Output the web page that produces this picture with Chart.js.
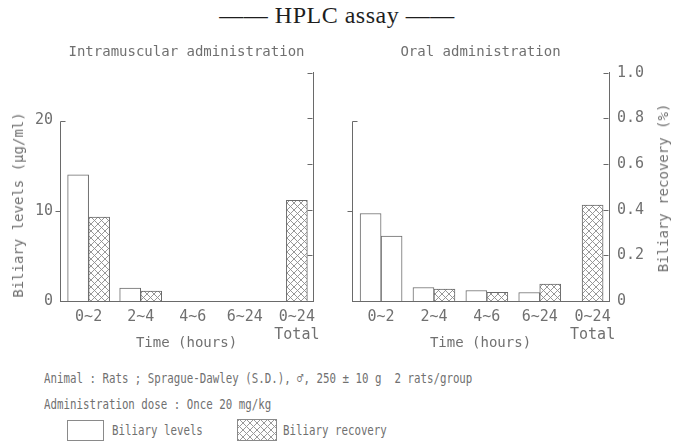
<!DOCTYPE html>
<html lang="en">
<head>
<meta charset="UTF-8">
<title>HPLC assay</title>
<script src="https://cdn.jsdelivr.net/npm/chart.js"></script>
<style>
  body { margin: 0; background: #fff; }
  #page { position: relative; width: 674px; height: 442px; overflow: hidden; font-family: "DejaVu Sans Mono", monospace; color: #707070; }
  h1 { position: absolute; left: 0; top: 0; width: 674px; margin: 0; text-align: center; font: normal 24px "Liberation Serif", serif; line-height: 30px; letter-spacing: 0.5px; color: #1e1e1e; }
  canvas { position: absolute; top: 0; }
  .note { position: absolute; left: 44px; font-size: 14px; line-height: 20px; white-space: pre; transform: scaleX(0.77); transform-origin: left center; }
  .axis-title { position: absolute; font-size: 14px; line-height: 16px; white-space: pre; transform: translate(-50%, -50%) rotate(-90deg); }
  .swatch { position: absolute; border: 1px solid #8a8a8a; background: #fff; }
  .hatched { background-image: repeating-linear-gradient(45deg, #9a9a9a 0 1px, transparent 1px 5px), repeating-linear-gradient(-45deg, #9a9a9a 0 1px, transparent 1px 5px); }
</style>
</head>
<body>
<div id="page">
  <h1>—— HPLC assay ——</h1>
  <canvas id="imChart" width="337" height="358" style="left:0"></canvas>
  <canvas id="oralChart" width="337" height="358" style="left:337px"></canvas>
  <div class="axis-title" style="left:18px; top:205px">Biliary levels (μg/ml)</div>
  <div class="axis-title" style="left:663px; top:188px">Biliary recovery (%)</div>

  <div class="note" style="top:368px">Animal : Rats ; Sprague-Dawley (S.D.), ♂, 250 ± 10 g  2 rats/group</div>
  <div class="note" style="top:394px">Administration dose : Once 20 mg/kg</div>
  <div class="swatch" style="left:67px; top:420px; width:35px; height:19px"></div>
  <div class="note" style="left:112px; top:420px">Biliary levels</div>
  <div class="swatch hatched" style="left:237px; top:419px; width:38px; height:20px"></div>
  <div class="note" style="left:283px; top:420px">Biliary recovery</div>
</div>

<script>
    // time windows after dosing
    const periods = ['0~2', '2~4', '4~6', '6~24', ['0~24', 'Total']];

    // biliary levels (ug/ml) and biliary recovery (%) per window
    const imLevels = [14.0, 1.43, 0, 0, null];
    const imRecovery = [0.368, 0.044, 0, 0, 0.441];
    const oralLevels = [9.7, 1.5, 1.16, 0.94, null];
    const oralRecovery = [0.285, 0.052, 0.038, 0.074, 0.42];

    const levelTicks = [0, 10, 20];
    const recoveryTicks = [0, 0.2, 0.4, 0.6, 0.8, 1.0];

    const ink = '#6a6a6a';
    const textColor = '#707070';
    const mono = 'DejaVu Sans Mono';

    // cross hatch fill for the recovery bars
    function makeHatch() {
        const c = document.createElement('canvas');
        c.width = 7; c.height = 7;
        const g = c.getContext('2d');
        g.fillStyle = '#fff';
        g.fillRect(0, 0, 7, 7);
        g.strokeStyle = '#8c8c8c';
        g.lineWidth = 0.9;
        g.beginPath();
        g.moveTo(0, 0); g.lineTo(7, 7);
        g.moveTo(7, 0); g.lineTo(0, 7);
        g.stroke();
        return g.createPattern(c, 'repeat');
    }
    const hatch = makeHatch();

    // levels axis only goes up to 20, recovery ticks point inward
    const axisMarks = {
        id: 'axisMarks',
        afterDatasetsDraw(chart) {
            const { ctx, chartArea: a, scales: { y, y1 } } = chart;
            const x0 = Math.round(a.left) + 0.5;
            const x1 = Math.round(a.right) - 0.5;
            const top = Math.round(y.getPixelForValue(levelTicks[levelTicks.length - 1])) + 0.5;
            const mid = Math.round(y.getPixelForValue(levelTicks[1])) + 0.5;
            ctx.save();
            ctx.strokeStyle = ink;
            ctx.lineWidth = 1;
            ctx.beginPath();
            ctx.moveTo(x0, y.getPixelForValue(0));
            ctx.lineTo(x0, top);
            ctx.lineTo(x0 + 5, top);
            ctx.moveTo(x0 - 5, mid);
            ctx.lineTo(x0, mid);
            recoveryTicks.slice(1).forEach(v => {
                const p = Math.round(y1.getPixelForValue(v)) + 0.5;
                ctx.moveTo(x1 - 5, p);
                ctx.lineTo(x1, p);
            });
            ctx.stroke();
            ctx.restore();
        }
    };

    function makeChart(id, title, levels, recovery, recoveryFill, side) {
        const left = side === 'left';
        return new Chart(document.getElementById(id), {
            type: 'bar',
            data: {
                datasets: [{
                    label: 'Biliary levels',
                    data: levels.map((v, i) => ({ x: i, y: v })),
                    backgroundColor: '#fff',
                    borderColor: ink,
                    borderWidth: 1,
                    yAxisID: 'y'
                }, {
                    label: 'Biliary recovery',
                    data: recovery.map((v, i) => ({ x: i, y: v })),
                    backgroundColor: recoveryFill,
                    borderColor: ink,
                    borderWidth: 1,
                    yAxisID: 'y1'
                }]
            },
            options: {
                responsive: false,
                animation: false,
                devicePixelRatio: 1,
                skipNull: true,
                barThickness: 21,
                layout: { padding: 0 },
                plugins: {
                    legend: { display: false },
                    tooltip: { enabled: false },
                    title: {
                        display: true,
                        text: title,
                        fullSize: false,
                        color: textColor,
                        font: { family: mono, size: 14, weight: 'normal' },
                        padding: { top: 44, bottom: 12 }
                    }
                },
                scales: {
                    x: {
                        type: 'linear',
                        offset: false,
                        min: -0.55,
                        max: 4.31,
                        grid: { display: false, drawTicks: false, offset: false },
                        border: { display: true, color: ink },
                        afterBuildTicks: s => { s.ticks = periods.map((p, i) => ({ value: i })); },
                        afterFit: s => { s.height = 57; },
                        ticks: {
                            autoSkip: false,
                            maxRotation: 0,
                            padding: 7,
                            color: textColor,
                            font: { family: mono, size: 15 },
                            callback: v => periods[v]
                        },
                        title: {
                            display: true,
                            text: 'Time (hours)',
                            color: textColor,
                            font: { family: mono, size: 14 },
                            padding: { top: 0, bottom: 6 }
                        }
                    },
                    y: {
                        position: 'left',
                        min: 0,
                        max: 25.3,
                        grid: { display: false, drawTicks: false },
                        border: { display: false },
                        afterBuildTicks: s => { s.ticks = levelTicks.map(v => ({ value: v })); },
                        afterFit: s => { s.width = left ? 60 : 15; },
                        ticks: {
                            display: left,
                            padding: 7,
                            color: textColor,
                            font: { family: mono, size: 15 }
                        }
                    },
                    y1: {
                        position: 'right',
                        min: 0,
                        max: 1.0,
                        grid: { display: false, drawTicks: false },
                        border: { display: true, color: ink },
                        afterBuildTicks: s => { s.ticks = recoveryTicks.map(v => ({ value: v })); },
                        afterFit: s => { s.width = left ? 24 : 65; },
                        ticks: {
                            display: !left,
                            padding: 8,
                            color: textColor,
                            font: { family: mono, size: 15 },
                            callback: v => v === 0 ? '0' : v.toFixed(1)
                        }
                    }
                }
            },
            plugins: [axisMarks]
        });
    }

    makeChart('imChart', 'Intramuscular administration', imLevels, imRecovery,
        imRecovery.map(() => hatch), 'left');
    // the 0~2 h recovery bar of the oral panel is printed without hatching
    makeChart('oralChart', 'Oral administration', oralLevels, oralRecovery,
        oralRecovery.map((v, i) => i === 0 ? '#fff' : hatch), 'right');
</script>
</body>
</html>
